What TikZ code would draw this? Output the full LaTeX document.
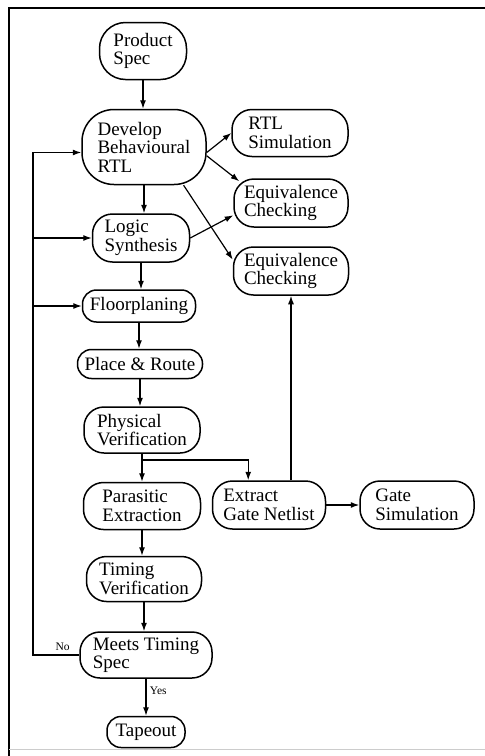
\documentclass[tikz,border=0pt]{standalone}
\usepackage{fontspec}
\setmainfont{Liberation Serif}
\usetikzlibrary{arrows.meta}

\newcommand{\stagefont}{\fontsize{19}{18.5}\selectfont}
\newcommand{\tagfont}{\fontsize{11.5}{12}\selectfont}

\begin{document}
\begin{tikzpicture}[x=1pt, y=-1pt]

  \tikzset{stage/.style={draw, line width=1.5pt, rounded corners=20pt, align=left,
                         inner sep=2pt, minimum height=47pt, font=\stagefont},
           slim/.style={stage, rounded corners=14pt, minimum height=30pt},
           flow/.style={line width=1.2pt, -{Latex[length=8.5pt,width=6pt]}}}

  \useasboundingbox (0,0) rectangle (485,756);

  % frame
  \draw[line width=2.2pt] (485,8) -- (9,8) -- (9,756);
  \draw[gray!40, line width=0.8pt] (9,749) -- (485,749);

  % main flow
  \node[stage, minimum width=87pt, minimum height=57pt, rounded corners=26pt] (spec) at (143,51) {Product\\Spec};
  \node[stage, minimum width=124pt, minimum height=75pt, rounded corners=32pt] (rtl) at (144,147) {Develop\\Behavioural\\RTL};
  \node[stage, minimum width=97pt, minimum height=48pt] (synth) at (141,238) {Logic\\Synthesis};
  \node[slim, minimum width=113pt, minimum height=32pt] (floor) at (139,306) {Floorplaning};
  \node[slim, minimum width=125pt, minimum height=29pt] (route) at (140,364) {Place \& Route};
  \node[stage, minimum width=116pt, minimum height=46pt] (physv) at (142,430) {Physical\\Verification};
  \node[stage, minimum width=117pt] (parax) at (142,506) {Parasitic\\Extraction};
  \node[stage, minimum width=115pt, minimum height=45pt] (timev) at (144,579) {Timing\\Verification};
  \node[stage, minimum width=132pt, minimum height=46pt] (meets) at (146,655) {Meets Timing\\Spec};
  \node[slim, minimum width=78pt, minimum height=31pt] (tape) at (146,732) {Tapeout};

  % checks
  \node[stage, minimum width=116pt] (rtlsim) at (290,133) {RTL\\Simulation};
  \node[stage, minimum width=114pt, minimum height=48pt] (eqa) at (291,203) {Equivalence\\Checking};
  \node[stage, minimum width=115pt, minimum height=48pt] (eqb) at (291,271) {Equivalence\\Checking};
  \node[stage, minimum width=113pt, minimum height=48pt] (netl) at (269,505) {Extract\\Gate Netlist};
  \node[stage, minimum width=114pt, minimum height=48pt] (gsim) at (417,505) {Gate\\Simulation};

  \foreach \a/\b in {spec/rtl, rtl/synth, synth/floor, floor/route, route/physv, physv/parax, parax/timev, timev/meets}
    \draw[flow] (\a.south) -- (\a.south |- \b.north);

  \draw[flow] (meets.south) -- node[right, font=\tagfont, pos=0.32] {Yes} (meets.south |- tape.north);

  % split after verification
  \coordinate (split) at (physv.south |- 0,460);
  \draw[flow] (split) -| (netl.130);
  \draw[flow] (netl.north -| eqb.south) -- (eqb.south);
  \draw[flow] (netl.east) -- (gsim.west);

  \draw[flow] (rtl.-5) -- (rtlsim.west);
  \draw[flow] (rtl.-8) -- ([shift={(6pt,-3pt)}]eqa.north west);
  \draw[flow] (rtl.-44) -- (eqb.169);
  \draw[flow] (synth.east) -- (eqa.192);

  % timing loop
  \coordinate (loop) at (33,153);
  \draw[line width=1.2pt] (meets.west) -- node[above, font=\tagfont, pos=0.36] {No} (meets.west -| loop) -- (loop |- rtl.185);
  \foreach \n in {rtl.185, synth.west, floor.west}
    \draw[flow] (loop |- \n) -- (\n);

\end{tikzpicture}
\end{document}
